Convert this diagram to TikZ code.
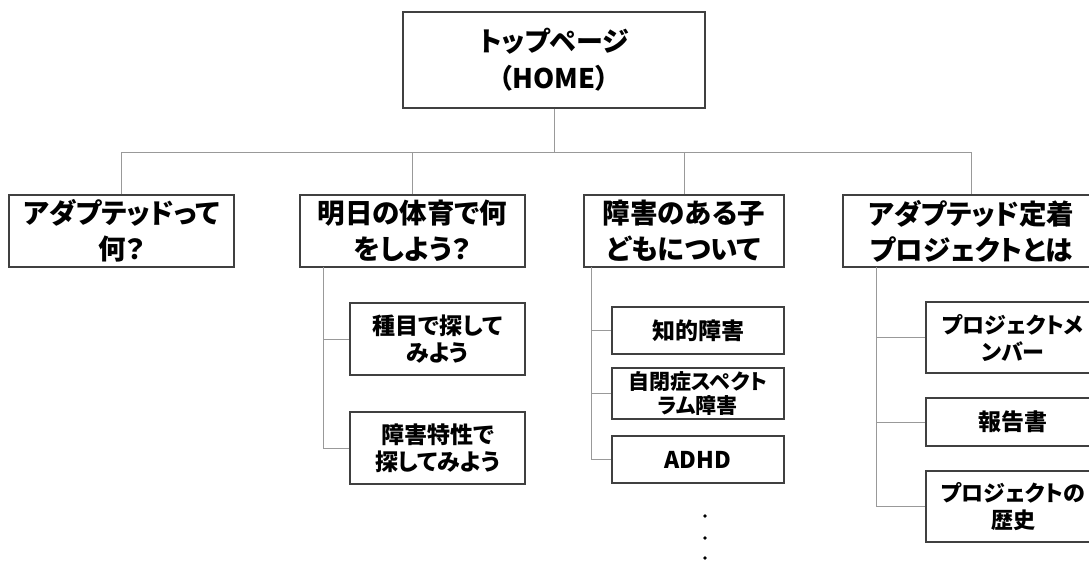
\documentclass[tikz,border=0pt]{standalone}
\usepackage{fontspec}
\setmainfont{Noto Sans CJK JP}[RawFeature=+palt]
\begin{document}
\begin{tikzpicture}[x=1pt,y=-1pt,
  box/.style={draw=black!75, line width=1.3pt, rectangle, inner sep=0pt, align=center, font=\bfseries},
  topbox/.style={box, font=\fontsize{27}{37}\selectfont\bfseries},
  lvone/.style={box, font=\fontsize{27.5}{36}\selectfont\bfseries, minimum height=72pt},
  kid/.style={box, font=\fontsize{23}{27}\selectfont\bfseries},
  conn/.style={draw=black!40, line width=1pt}]
\useasboundingbox (0,0) rectangle (1089,560);
\clip (0,0) rectangle (1089,560);
\node[topbox, minimum width=302pt, minimum height=96pt] (top) at (554,60) {トップページ\\（HOME）};
\node[lvone, minimum width=225pt] (b1) at (121.5,231) {アダプテッドって\\何？};
\node[lvone, minimum width=225pt] (b2) at (412.5,231) {明日の体育で何\\をしよう？};
\node[lvone, minimum width=200pt] (b3) at (684,231) {障害のある子\\どもについて};
\node[lvone, minimum width=257pt] (b4) at (971.5,231) {アダプテッド定着\\プロジェクトとは};
\node[kid, minimum width=175pt, minimum height=72pt] (c21) at (437.5,339) {種目で探して\\みよう};
\node[kid, minimum width=175pt, minimum height=72pt] (c22) at (437.5,448) {障害特性で\\探してみよう};
\node[kid, minimum width=172pt, minimum height=47pt] (c31) at (698,330.5) {知的障害};
\node[kid, minimum width=172pt, minimum height=51pt, font=\fontsize{21}{24}\selectfont\bfseries] (c32) at (698,393.5) {自閉症スペクト\\ラム障害};
\node[kid, minimum width=172pt, minimum height=47pt] (c33) at (698,459.5) {ADHD};
\node[kid, minimum width=174pt, minimum height=71pt, font=\fontsize{22}{27}\selectfont\bfseries] (c41) at (1013,337.5) {プロジェクトメ\\ンバー};
\node[kid, minimum width=174pt, minimum height=48pt] (c42) at (1013,422) {報告書};
\node[kid, minimum width=174pt, minimum height=71pt, font=\fontsize{22}{27}\selectfont\bfseries] (c43) at (1013,506.5) {プロジェクトの\\歴史};
\coordinate (bus) at (554,152);
\coordinate (v2) at (323,267);
\coordinate (v3) at (591,267);
\coordinate (v4) at (876,267);
\draw[conn] (top.south) -- (bus);
\draw[conn] (b1.north) -- (b1.north |- bus) -- (b4.north |- bus) -- (b4.north);
\draw[conn] (b2.north) -- (b2.north |- bus);
\draw[conn] (b3.north) -- (b3.north |- bus);
\draw[conn] (v2) |- (c22.west);
\draw[conn] (v2 |- c21.west) -- (c21.west);
\draw[conn] (v3) |- (c33.west);
\draw[conn] (v3 |- c31.west) -- (c31.west);
\draw[conn] (v3 |- c32.west) -- (c32.west);
\draw[conn] (v4) |- (c43.west);
\draw[conn] (v4 |- c41.west) -- (c41.west);
\draw[conn] (v4 |- c42.west) -- (c42.west);
\fill[black] (705,516) circle (1.8pt) (705,538) circle (1.8pt) (705,558) circle (1.8pt);
\end{tikzpicture}
\end{document}
